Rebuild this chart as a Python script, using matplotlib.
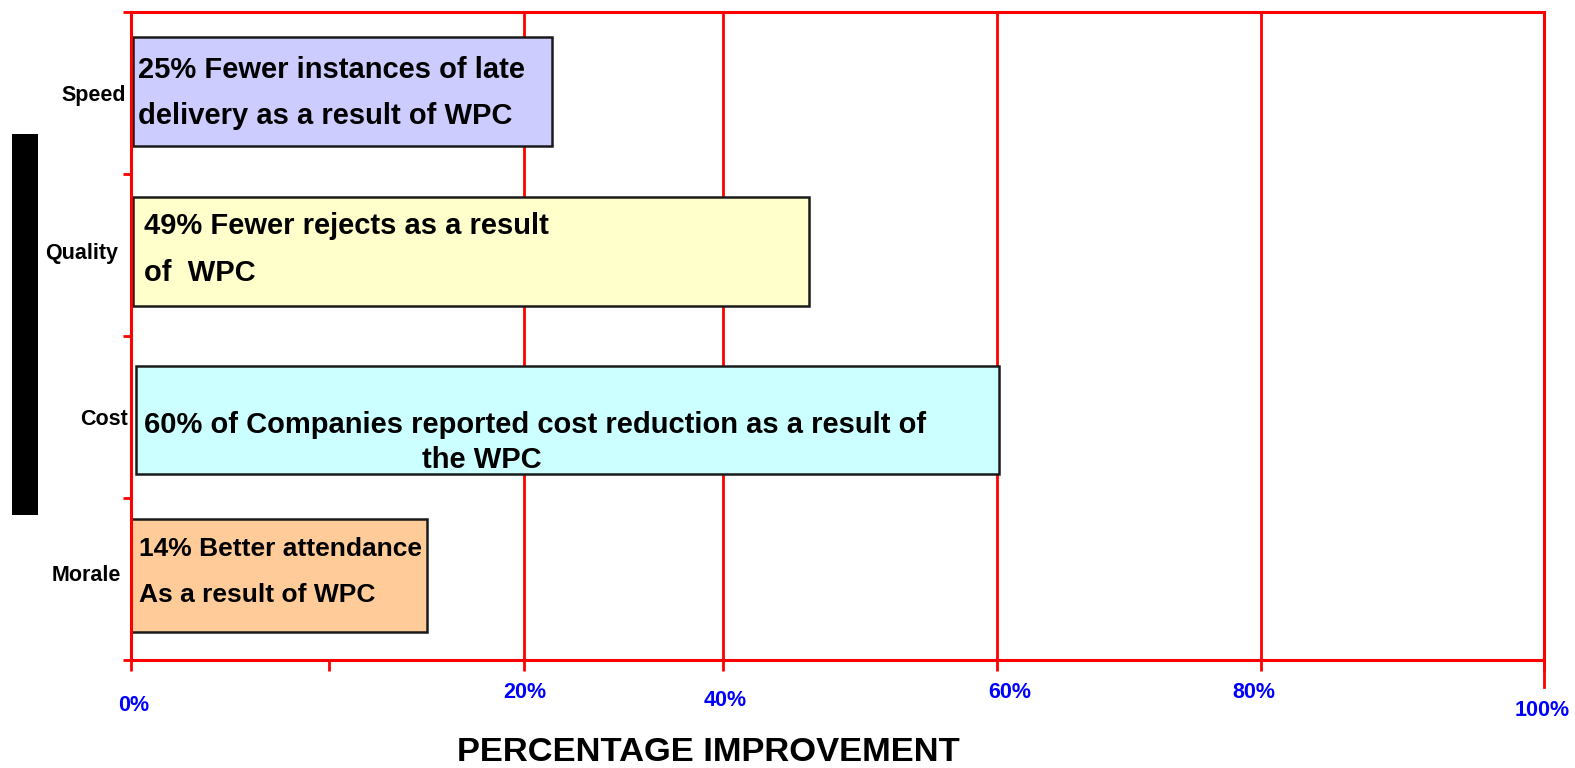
import matplotlib
matplotlib.use("Agg")
import matplotlib.pyplot as plt
import matplotlib.transforms as mtransforms
from matplotlib.patches import Rectangle

# ---- data ----
categories = ["Speed", "Quality", "Cost", "Morale"]
bar_values = [29.85, 47.97, 61.48, 20.97]        # bar ends as drawn
bar_starts = [0.2, 0.2, 0.35, -0.15]
bar_colors = ["#CCCCFF", "#FFFFCC", "#CCFFFF", "#FFCC99"]
bar_texts = [
    ["25% Fewer instances of late", "delivery as a result of WPC"],
    ["49% Fewer rejects as a result", "of  WPC"],
    ["60% of Companies reported cost reduction as a result of", "the WPC"],
    ["14% Better attendance", "As a result of WPC"],
]
tick_labels = ["0%", "20%", "40%", "60%", "80%", "100%"]
grid_positions = [0, 27.86, 41.93, 61.34, 79.96, 100]   # where the chart drew its gridlines
xlabel = "PERCENTAGE IMPROVEMENT"

# ---- layout ----
bar_centers = [0.49, 1.48, 2.52, 3.48]
bar_heights = [0.67, 0.67, 0.67, 0.70]
bar_text_size = [21, 21, 21, 19]
text_x = [[0.5, 0.5], [0.92, 0.92], [0.92, 20.6], [0.57, 0.57]]
text_dy = [[-0.135, 0.15], [-0.16, 0.13], [0.029, 0.246], [-0.162, 0.123]]
cat_label_y = [0.515, 1.49, 2.52, 3.48]
cat_label_x = [-0.3, -0.85, -0.2, -0.7]
tick_label_x = [0.2, 27.9, 42.1, 62.2, 79.5, 99.9]
tick_label_yfig = [703, 690, 698, 690, 690, 708]

W, H = 1575, 768
fig = plt.figure(figsize=(W / 100, H / 100), dpi=100)
fig.patch.set_facecolor("white")
font = ["Liberation Sans", "DejaVu Sans"]
sx = 1575 / 1568
sy = 768 / 765

left, right = 130 * sx / W, 1537 * sx / W
top, bottom = 1 - 12 * sy / H, 1 - 657 * sy / H
ax = fig.add_axes([left, bottom, right - left, top - bottom])
ax.set_xlim(0, 100)
ax.set_ylim(4, 0)

red = "#FF0000"
for pos in grid_positions[1:-1]:
    ax.axvline(pos, color=red, lw=2, zorder=0)

for i in range(len(categories)):
    ax.barh(bar_centers[i], bar_values[i] - bar_starts[i], left=bar_starts[i],
            height=bar_heights[i], color=bar_colors[i], edgecolor="#1a1a1a",
            linewidth=1.8, zorder=2)
    for j, line in enumerate(bar_texts[i]):
        ax.text(text_x[i][j], bar_centers[i] + text_dy[i][j], line,
                ha="left", va="center", fontsize=bar_text_size[i], fontweight="bold",
                family=font, color="black", zorder=3)

for s in ["left", "right", "top", "bottom"]:
    ax.spines[s].set_color(red)
    ax.spines[s].set_linewidth(2.2)

ax.set_xticks([0, 14.07] + grid_positions[1:])
ax.set_xticklabels([])
ax.tick_params(axis="x", colors=red, length=8, width=2, direction="out")
ax.set_yticks([0, 1, 2, 3, 4])
ax.set_yticklabels([])
ax.tick_params(axis="y", colors=red, length=6, width=2, direction="out")
# longer tick below the right end
ax.plot([100, 100], [4, 4.17], color=red, lw=2, clip_on=False)

for i, c in enumerate(categories):
    ax.text(cat_label_x[i], cat_label_y[i], c, ha="right", va="center",
            fontsize=15.5, fontweight="bold", family=font, color="black")

trans = mtransforms.blended_transform_factory(ax.transData, fig.transFigure)
for i, lab in enumerate(tick_labels):
    ax.text(tick_label_x[i], 1 - tick_label_yfig[i] * sy / H, lab, transform=trans,
            ha="center", va="center", fontsize=15.5, fontweight="bold",
            family=font, color="#0000FF")

fig.text(705 * sx / W, 1 - 750 * sy / H, xlabel, ha="center", va="center",
         fontsize=24.8, fontweight="bold", family=font, color="black")

fig.patches.append(Rectangle((12 * sx / W, 1 - 513 * sy / H), 26 * sx / W, 380 * sy / H,
                             transform=fig.transFigure, facecolor="black",
                             edgecolor="none"))

fig.savefig("out.png", dpi=100)
